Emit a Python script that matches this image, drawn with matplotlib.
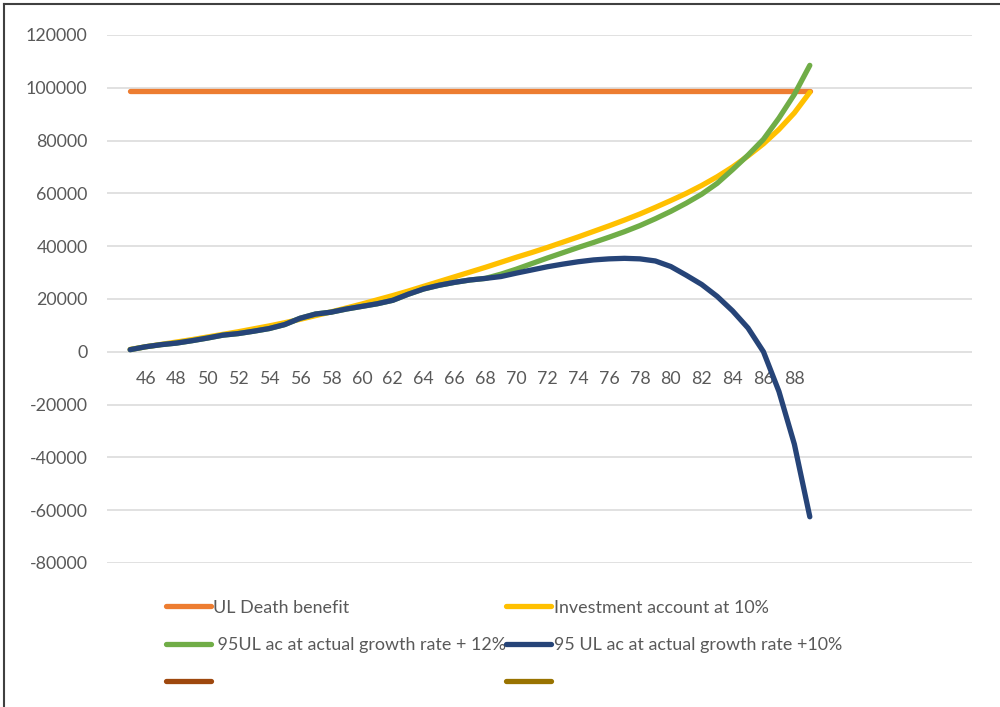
import matplotlib
matplotlib.use("Agg")
import matplotlib.pyplot as plt
from matplotlib.lines import Line2D

plt.rcParams['font.family'] = ['Lato', 'DejaVu Sans']

ages = list(range(45, 90))
tick_ages = list(range(46, 90, 2))
y_ticks = [-80000, -60000, -40000, -20000, 0, 20000, 40000, 60000, 80000, 100000, 120000]

death_benefit = [98600] * 45

investment_10 = [900, 1900, 2800, 3700, 4600, 5600, 6600, 7600, 8700, 9800,
                 11000, 12300, 13700, 15100, 16600, 18100, 19700, 21300, 23000, 24800,
                 26600, 28400, 30200, 32000, 33900, 35800, 37600, 39500, 41500, 43500,
                 45600, 47700, 49900, 52200, 54700, 57300, 60000, 63000, 66300, 70000,
                 74200, 78800, 84200, 90500, 98300]

ul_12 = [800, 1900, 2700, 3300, 4200, 5200, 6300, 6900, 7800, 8800,
         10300, 12700, 14300, 15000, 16200, 17200, 18200, 19500, 21800, 23800,
         25200, 26300, 27200, 27800, 29400, 31300, 33400, 35500, 37500, 39500,
         41400, 43400, 45500, 47800, 50400, 53200, 56300, 59700, 63800, 69000,
         74500, 80500, 88500, 97500, 108500]

ul_10 = [800, 1900, 2700, 3300, 4200, 5200, 6300, 6900, 7800, 8800,
         10300, 12700, 14300, 15000, 16200, 17200, 18200, 19500, 21800, 23800,
         25200, 26300, 27200, 27800, 28500, 29800, 31000, 32200, 33200, 34100,
         34800, 35200, 35400, 35200, 34400, 32300, 29000, 25500, 21000, 15500,
         9000, 0, -15000, -35000, -62500]

labels = ["UL Death benefit", "Investment account at 10%",
          " 95UL ac at actual growth rate + 12%", "95 UL ac at actual growth rate +10%",
          " ", " "]
colors = ["#ED7D31", "#FFC000", "#70AD47", "#264478", "#9E480E", "#997300"]

fig = plt.figure(figsize=(10, 7.07), dpi=100)
ax = fig.add_axes([0.107, 0.2037, 0.865, 0.7468])

lw = 3.8
series = [death_benefit, investment_10, ul_12, ul_10]
handles = []
for s, c, lab in zip(series, colors[:4], labels[:4]):
    h, = ax.plot(ages, s, color=c, lw=lw, solid_capstyle='round', solid_joinstyle='round', label=lab)
    handles.append(h)
for c, lab in zip(colors[4:], labels[4:]):
    h = Line2D([], [], color=c, lw=lw, solid_capstyle='round', label=lab)
    handles.append(h)

ax.set_xlim(43.5, 99.5)
ax.set_ylim(-80000, 120000)
ax.set_yticks(y_ticks)
ax.set_yticklabels([str(v) for v in y_ticks])
ax.yaxis.grid(True, color='#D9D9D9', lw=1.1)
ax.set_axisbelow(True)
for sp in ax.spines.values():
    sp.set_visible(False)
ax.tick_params(axis='y', length=0, pad=14, labelsize=12.8, labelcolor='#595959')

ax.set_xticks(tick_ages)
ax.set_xticklabels([str(a) for a in tick_ages])
ax.spines['bottom'].set_position(('data', 0))
ax.tick_params(axis='x', length=0, pad=14, labelsize=12.8, labelcolor='#595959')

order = [0, 2, 4, 1, 3, 5]
leg = fig.legend([handles[i] for i in order], [labels[i] for i in order],
                 ncol=2, loc='upper left', bbox_to_anchor=(0.166, 0.152),
                 frameon=False, fontsize=12.9, handlelength=2.5, handletextpad=0.15,
                 columnspacing=0.0, labelspacing=1.2, borderpad=0, borderaxespad=0)
for t in leg.get_texts():
    t.set_color('#595959')

fig.add_artist(Line2D([0.004, 0.004], [0, 0.9945], transform=fig.transFigure, color='#404040', lw=1.5))
fig.add_artist(Line2D([0.004, 1.0], [0.9945, 0.9945], transform=fig.transFigure, color='#404040', lw=1.5))

fig.savefig("out.png", dpi=100, facecolor='white')
